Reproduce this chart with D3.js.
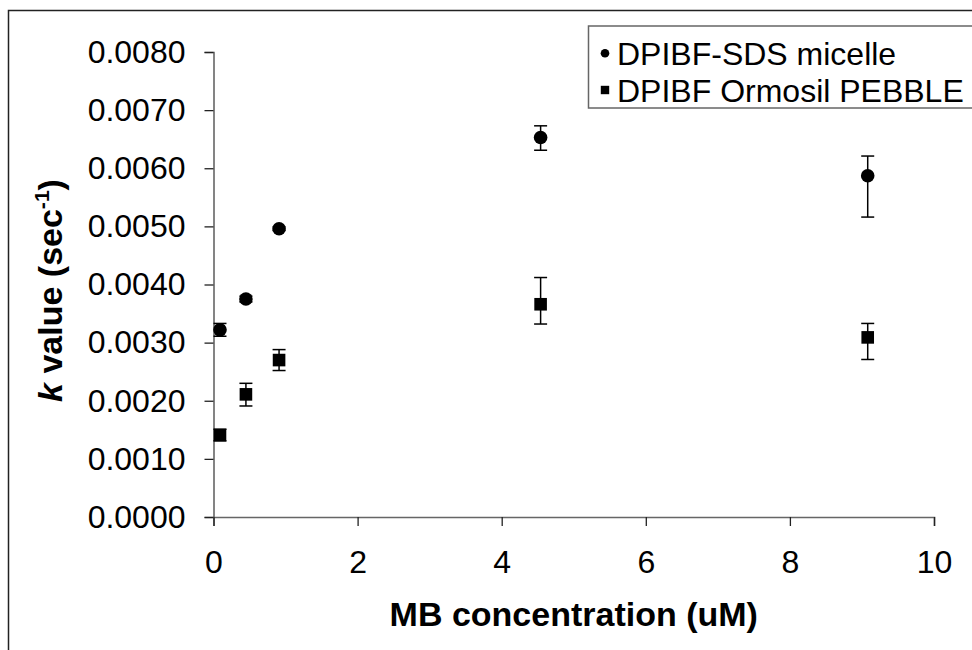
<!DOCTYPE html>
<html>
<head>
<meta charset="utf-8">
<script src="https://cdn.jsdelivr.net/npm/d3@7"></script>
<style>
  html, body { margin: 0; padding: 0; background: #fff; }
  svg { display: block; font-family: "Liberation Sans", Arial, sans-serif; }
</style>
</head>
<body>
<svg id="chart" width="972" height="650"></svg>
<script>
// ---- data ----
const concentrations = [0.09, 0.45, 0.91, 4.54, 9.08];
const micelleValues   = [0.00322, 0.00375, 0.00496, 0.00653, 0.00587];
const micelleErrUp    = [0.00011, 0.00005, 0.00003, 0.00020, 0.00034];
const micelleErrDown  = [0.00011, 0.00005, 0.00003, 0.00022, 0.00071];
const pebbleValues    = [0.00141, 0.00211, 0.00270, 0.00366, 0.00309];
const pebbleErrUp     = [0.00010, 0.00019, 0.00018, 0.00046, 0.00024];
const pebbleErrDown   = [0.00010, 0.00020, 0.00018, 0.00034, 0.00038];
const seriesNames     = ["DPIBF-SDS micelle", "DPIBF Ormosil PEBBLE"];
const xTicks = [0, 2, 4, 6, 8, 10];
const yTicks = [0, 0.001, 0.002, 0.003, 0.004, 0.005, 0.006, 0.007, 0.008];

const svg = d3.select("#chart");

// outer frame (cropped by image edge on right/bottom)
svg.append("rect").attr("x", 8.5).attr("y", 10.5).attr("width", 1100).attr("height", 800)
  .attr("fill", "none").attr("stroke", "#222").attr("stroke-width", 1.5);

const x = d3.scaleLinear().domain([0, 10]).range([213.5, 934]);
const y = d3.scaleLinear().domain([0, 0.008]).range([517, 52]);

const FS = 32;   // tick labels & legend
const TFS = 34;  // axis titles

// y axis
const yAxis = svg.append("g").attr("transform", `translate(${x(0)},0)`)
  .call(d3.axisLeft(y).tickValues(yTicks).tickFormat(d3.format(".4f")).tickSize(9).tickPadding(19));
// x axis
const xAxis = svg.append("g").attr("transform", `translate(0,${y(0)})`)
  .call(d3.axisBottom(x).tickValues(xTicks).tickFormat(d3.format("d")).tickSize(9).tickPadding(24));

[yAxis, xAxis].forEach(g => {
  g.select(".domain").attr("stroke", "#666").attr("stroke-width", 1.6);
  g.selectAll(".tick line").attr("stroke", "#222").attr("stroke-width", 1.3);
  g.selectAll(".tick text").attr("font-size", FS).attr("fill", "#000")
    .attr("font-family", "'Liberation Sans', Arial, sans-serif");
});

// axis titles
svg.append("text").attr("x", (x(0) + x(10)) / 2).attr("y", 626)
  .attr("text-anchor", "middle").attr("font-weight", "bold").attr("font-size", TFS)
  .text("MB concentration (uM)");

const yt = svg.append("text").attr("transform", `translate(62,${(y(0) + y(0.008)) / 2 + 6}) rotate(-90)`)
  .attr("text-anchor", "middle").attr("font-weight", "bold").attr("font-size", TFS);
yt.append("tspan").attr("font-style", "italic").text("k");
yt.append("tspan").text(" value (sec");
yt.append("tspan").attr("font-size", TFS * 0.62).attr("dy", -13).text("-1");
yt.append("tspan").attr("dy", 13).text(")");

// data
const series = [
  { name: seriesNames[0], vals: micelleValues, up: micelleErrUp, down: micelleErrDown, shape: "circle" },
  { name: seriesNames[1], vals: pebbleValues, up: pebbleErrUp, down: pebbleErrDown, shape: "square" }
];
const capW = 6.5;
series.forEach(s => {
  const g = svg.append("g");
  concentrations.forEach((c, i) => {
    const cx = x(c), v = s.vals[i];
    const yTop = y(v + s.up[i]), yBot = y(v - s.down[i]);
    g.append("line").attr("x1", cx).attr("x2", cx).attr("y1", yTop).attr("y2", yBot)
      .attr("stroke", "#000").attr("stroke-width", 1.5);
    [yTop, yBot].forEach(yy => g.append("line").attr("x1", cx - capW).attr("x2", cx + capW)
      .attr("y1", yy).attr("y2", yy).attr("stroke", "#000").attr("stroke-width", 1.5));
    if (s.shape === "circle") {
      g.append("circle").attr("cx", cx).attr("cy", y(v)).attr("r", 6.8).attr("fill", "#000");
    } else {
      g.append("rect").attr("x", cx - 6.3).attr("y", y(v) - 6.3).attr("width", 12.6).attr("height", 12.6).attr("fill", "#000");
    }
  });
});

// legend
const lg = svg.append("g");
lg.append("rect").attr("x", 588.5).attr("y", 26).attr("width", 500).attr("height", 82)
  .attr("fill", "#fff").attr("stroke", "#666").attr("stroke-width", 1.5);
const rows = [{ cy: 53.3, base: 65 }, { cy: 90, base: 101.7 }];
series.forEach((s, i) => {
  const r = rows[i];
  if (s.shape === "circle") lg.append("circle").attr("cx", 605).attr("cy", r.cy).attr("r", 4.3).attr("fill", "#000");
  else lg.append("rect").attr("x", 600.8).attr("y", r.cy - 4.2).attr("width", 8.4).attr("height", 8.4).attr("fill", "#000");
  lg.append("text").attr("x", 617).attr("y", r.base).attr("font-size", FS).text(s.name);
});
</script>
</body>
</html>
